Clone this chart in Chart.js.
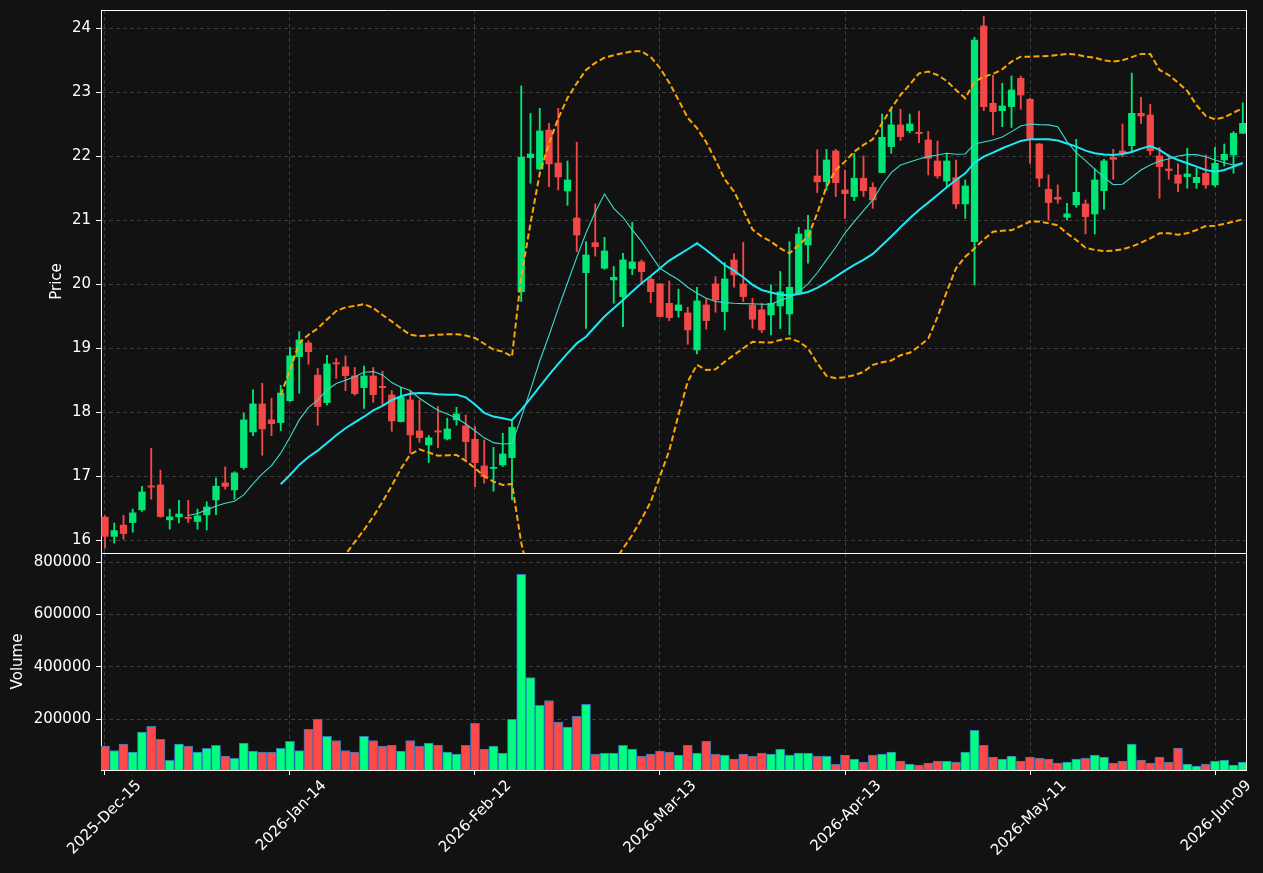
<!DOCTYPE html>
<html><head><meta charset="utf-8">
<script src="https://cdn.jsdelivr.net/npm/chart.js@4.4.1/dist/chart.umd.min.js"></script>
<style>
html,body{margin:0;padding:0;background:#121212;}
#wrap{position:relative;width:1263px;height:873px;background:#121212;overflow:hidden;}
#p1{position:absolute;left:0;top:0;width:1263px;height:554px;}
#p2{position:absolute;left:0;top:553px;width:1263px;height:320px;}
</style></head><body>
<div id="wrap"><div id="p1"><canvas id="c1"></canvas></div><div id="p2"><canvas id="c2"></canvas></div></div>
<script>
// ---- data ----
const tickIdx = [0, 20, 40, 60, 80, 100, 120];
const tickLabels = ['2025-Dec-15','2026-Jan-14','2026-Feb-12','2026-Mar-13','2026-Apr-13','2026-May-11','2026-Jun-09'];
const priceTicks = [16, 17, 18, 19, 20, 21, 22, 23, 24];
const volumeTicks = [200000, 400000, 600000, 800000];

const openP = [16.36,16.06,16.235,16.276,16.474,16.845,16.864,16.318,16.365,16.35,
16.292,16.396,16.63,16.896,16.786,17.135,17.692,18.13,17.88,17.838,
18.18,18.869,19.083,18.58,18.15,18.765,18.708,18.567,18.385,18.567,
18.392,18.27,17.853,18.192,17.708,17.489,17.7,17.583,17.88,17.786,
17.577,17.16,17.12,17.176,17.291,19.885,21.978,21.8,22.41,21.895,
21.458,21.036,20.182,20.65,20.25,20.068,19.807,20.245,20.349,20.078,
20.005,19.703,19.588,19.552,18.974,19.677,20.005,19.573,20.38,20.005,
19.677,19.6,19.52,19.661,19.536,19.859,20.614,21.692,21.604,22.083,
21.474,21.37,21.656,21.515,21.745,22.151,22.49,22.401,22.375,22.255,
21.927,21.614,21.666,21.255,20.666,24.036,22.828,22.713,22.776,23.218,
22.89,22.192,21.484,21.359,21.047,21.24,21.255,21.099,21.463,21.984,
22.083,22.166,22.671,22.645,22.005,21.802,21.708,21.682,21.588,21.734,
21.552,21.943,22.02,22.359];
const highP = [16.38,16.27,16.39,16.485,16.84,17.437,17.094,16.485,16.625,16.625,
16.485,16.6,16.97,17.146,17.07,17.984,18.349,18.453,18.218,18.42,
19.015,19.26,19.12,18.687,18.89,18.843,18.88,18.7,18.723,18.7,
18.64,18.338,18.39,18.338,18.192,17.635,18.088,17.906,18.077,17.958,
17.775,17.567,17.452,17.671,17.88,23.1,22.67,22.75,22.515,22.75,
21.926,22.218,20.666,21.255,20.734,20.276,20.484,20.969,20.38,20.12,
20.01,20.052,19.922,19.64,19.953,19.781,20.12,20.338,20.474,20.656,
19.78,19.703,19.99,20.2,20.666,20.89,21.078,22.1,22.109,22.109,
21.786,22.046,22.005,21.588,22.66,22.75,22.734,22.66,22.708,22.39,
22.24,22.047,21.942,21.63,23.86,24.19,23.27,23.14,23.255,23.255,
22.906,22.2,21.708,21.552,21.265,22.265,21.317,21.802,21.953,22.109,
22.505,23.3,22.92,22.812,22.14,22.02,21.88,22.125,21.812,22.02,
22.14,22.192,22.385,22.838];
const lowP = [15.875,15.955,16.016,16.125,16.45,16.64,16.36,16.172,16.27,16.276,
16.172,16.16,16.40,16.797,16.64,17.109,17.635,17.328,17.635,17.713,
18.17,18.296,18.749,17.796,18.114,18.53,18.338,18.265,18.06,18.155,
18.114,17.702,17.85,17.36,17.53,17.213,17.447,17.567,17.8,17.255,
16.838,16.89,16.765,17.15,16.63,19.73,21.578,21.79,21.525,21.473,
21.234,20.51,19.31,20.44,20.234,19.703,19.338,20.15,20.0,19.713,
19.49,19.432,19.484,19.062,18.911,19.297,19.562,19.286,19.953,19.729,
19.312,19.245,19.208,19.307,19.208,19.84,20.328,21.432,21.474,21.37,
21.03,21.307,21.37,21.187,21.74,22.047,22.245,22.37,22.213,21.708,
21.656,21.526,21.187,21.03,19.99,22.713,22.333,22.463,22.45,22.734,
21.89,21.526,21.005,21.265,21.005,21.203,20.786,20.786,21.172,21.64,
21.995,22.07,22.515,22.02,21.343,21.64,21.448,21.5,21.5,21.5,
21.526,21.849,21.734,22.359];
const closeP = [16.06,16.15,16.104,16.427,16.755,16.83,16.37,16.365,16.41,16.34,
16.38,16.52,16.844,16.84,17.052,17.88,18.13,17.74,17.822,18.30,
18.88,19.129,18.947,18.088,18.755,18.755,18.572,18.29,18.567,18.275,
18.385,17.864,18.234,17.645,17.604,17.6,17.69,17.739,17.973,17.541,
17.213,16.994,17.14,17.348,17.765,21.984,22.036,22.395,21.88,21.677,
21.63,20.77,20.458,20.588,20.52,20.109,20.38,20.349,20.198,19.885,
19.495,19.479,19.677,19.286,19.74,19.432,19.755,20.083,20.146,19.807,
19.453,19.286,19.703,19.88,19.953,20.786,20.849,21.6,21.942,21.588,
21.416,21.656,21.463,21.317,22.296,22.49,22.307,22.505,22.354,21.968,
21.692,21.927,21.255,21.536,23.817,22.776,22.698,22.786,23.036,22.958,
22.28,21.656,21.276,21.328,21.1,21.437,21.057,21.63,21.927,21.953,
22.047,22.671,22.63,22.088,21.838,21.776,21.578,21.724,21.672,21.552,
21.89,22.03,22.359,22.515];
const volume = [97500,81000,105000,75000,151000,173000,124000,43000,105000,97500,
75000,89000,101000,59500,51000,109000,78500,75000,75000,89000,
116000,81000,162000,200000,135000,119000,81000,75000,135000,119000,
97500,101000,78500,119000,97500,109000,101000,75000,67000,101000,
185000,86000,97500,71000,200000,754000,359000,253000,272000,189000,
170000,211000,257000,67000,71000,71000,101000,86000,59500,67000,
78500,75000,63000,101000,71000,116000,67000,63000,48000,67000,
59500,71000,67000,86000,63000,71000,71000,59500,59500,29000,
63000,48000,37000,63000,67000,75000,40500,29000,25000,33000,
40500,40500,37000,75000,158000,101000,56000,48000,59500,40500,
56000,52000,48000,33000,37000,48000,52000,63000,56000,33000,
40500,105000,44000,33000,56000,37000,90000,29000,21500,29000,
40500,44000,25000,37000];

const ma10Start = 9;
const ma10 = [16.385,16.416,16.474,16.536,16.578,16.609,16.708,16.88,17.036,17.166,
17.36,17.61,17.88,18.077,18.19,18.348,18.45,18.5,18.556,18.624,
18.635,18.583,18.463,18.39,18.338,18.218,18.12,18.03,17.973,17.91,
17.815,17.71,17.6,17.525,17.503,17.51,17.92,18.35,18.8,19.2,
19.62,20.02,20.42,20.8,21.13,21.41,21.187,21.047,20.85,20.67,
20.46,20.25,20.156,20.07,19.953,19.86,19.78,19.73,19.713,19.703,
19.698,19.695,19.687,19.687,19.745,19.797,19.885,20.005,20.18,20.38,
20.578,20.8,20.98,21.15,21.317,21.552,21.745,21.864,21.91,21.958,
21.994,22.02,22.047,22.031,22.036,22.192,22.224,22.255,22.3,22.385,
22.474,22.505,22.495,22.49,22.463,22.229,22.057,21.932,21.8,21.672,
21.557,21.562,21.672,21.786,21.864,21.927,21.958,22.005,22.026,22.026,
21.994,21.942,21.9,21.864,21.9];

const ma20Start = 19;
const ma20 = [16.874,17.02,17.177,17.3,17.4,17.52,17.64,17.75,17.84,17.93,
18.03,18.1,18.19,18.25,18.29,18.3,18.296,18.28,18.275,18.275,
18.233,18.12,17.99,17.932,17.906,17.875,18.036,18.218,18.4,18.583,
18.755,18.92,19.077,19.18,19.34,19.495,19.625,19.755,19.885,20.016,
20.13,20.25,20.37,20.458,20.547,20.64,20.536,20.42,20.3,20.213,
20.11,19.99,19.911,19.87,19.838,19.823,19.849,19.88,19.942,20.026,
20.12,20.213,20.302,20.38,20.474,20.609,20.745,20.89,21.03,21.161,
21.276,21.395,21.515,21.63,21.734,21.9,21.995,22.057,22.125,22.182,
22.24,22.265,22.265,22.265,22.245,22.2,22.15,22.088,22.047,22.026,
22.02,22.036,22.067,22.12,22.161,22.1,22.005,21.942,21.89,21.838,
21.786,21.76,21.786,21.838,21.89];

const bbStart = 19;
const bbUpper = [18.27,18.66,19.08,19.21,19.31,19.45,19.58,19.64,19.66,19.69,
19.63,19.52,19.42,19.31,19.21,19.19,19.2,19.21,19.22,19.22,
19.2,19.16,19.07,18.98,18.95,18.87,20.12,20.95,21.73,22.2,
22.59,22.91,23.14,23.35,23.46,23.54,23.58,23.61,23.64,23.64,
23.55,23.38,23.15,22.88,22.6,22.44,22.22,21.94,21.64,21.45,
21.16,20.855,20.745,20.666,20.562,20.484,20.614,20.745,21.109,21.526,
21.786,21.916,22.072,22.177,22.265,22.515,22.75,22.958,23.12,23.296,
23.323,23.27,23.177,23.036,22.906,23.166,23.244,23.286,23.359,23.479,
23.557,23.557,23.562,23.567,23.583,23.6,23.588,23.56,23.54,23.5,
23.48,23.5,23.55,23.6,23.6,23.35,23.27,23.15,23.02,22.8,
22.63,22.578,22.609,22.682,22.75];
const bbLower = [15.45,15.35,15.3,15.4,15.45,15.5,15.6,15.78,15.97,16.16,
16.37,16.6,16.85,17.12,17.34,17.42,17.37,17.32,17.327,17.333,
17.24,17.124,17.0,16.916,16.864,16.88,15.96,15.35,15.07,14.96,
14.92,14.93,15.02,15.01,15.22,15.45,15.65,15.87,16.08,16.33,
16.6,17.0,17.4,17.96,18.48,18.74,18.66,18.67,18.79,18.895,
19.0,19.1,19.093,19.088,19.13,19.156,19.104,19.0,18.765,18.567,
18.531,18.547,18.578,18.63,18.74,18.78,18.807,18.89,18.93,19.03,
19.15,19.49,19.885,20.25,20.43,20.56,20.7,20.82,20.838,20.845,
20.91,20.98,20.98,20.952,20.92,20.796,20.692,20.572,20.536,20.52,
20.525,20.546,20.588,20.65,20.718,20.796,20.796,20.775,20.796,20.848,
20.91,20.916,20.942,20.978,21.015];

// ---- styling ----
const GRID = '#3d3d3d';
const UP = '#00e676', DOWN = '#f44848';
const VUP = '#00ff80', VDOWN = '#ff4848';
const X_MIN = -0.43, X_MAX = 123.35;
const FS = 15;
Chart.defaults.font.family = "'DejaVu Sans', sans-serif";
Chart.defaults.font.size = FS;
Chart.defaults.color = '#ffffff';

const idx = openP.map((_, i) => i);
const isUp = idx.map(i => closeP[i] >= openP[i]);
const wickData = idx.map(i => ({x: i, y: [lowP[i], highP[i]]}));
const bodyData = idx.map(i => ({x: i, y: [Math.min(openP[i], closeP[i]), Math.max(openP[i], closeP[i])]}));
const volData = idx.map(i => ({x: i, y: volume[i]}));
const series = (arr, start) => arr.map((v, k) => ({x: k + start, y: v}));

const noPad = s => { s.paddingTop = 0; s.paddingBottom = 0; s.paddingLeft = 0; s.paddingRight = 0; };

const frameScales = () => ({
  xT: {type: 'linear', position: 'top', display: true, min: 0, max: 1,
       ticks: {display: false}, grid: {display: false, drawTicks: false},
       border: {display: true, color: '#ffffff', width: 1},
       afterFit: s => { s.height = 0; noPad(s); }},
  yR: {type: 'linear', position: 'right', display: true, min: 0, max: 1,
       ticks: {display: false}, grid: {display: false, drawTicks: false},
       border: {display: true, color: '#ffffff', width: 1},
       afterFit: s => { s.width = 0; noPad(s); }}
});

new Chart(document.getElementById('c1'), {
  type: 'bar',
  data: {
    datasets: [
      {type: 'line', label: 'BB upper', data: series(bbUpper, bbStart), borderColor: '#ffa500', borderWidth: 2, borderDash: [6, 3], pointRadius: 0, xAxisID: 'x', yAxisID: 'y', order: 0},
      {type: 'line', label: 'BB lower', data: series(bbLower, bbStart), borderColor: '#ffa500', borderWidth: 2, borderDash: [6, 3], pointRadius: 0, xAxisID: 'x', yAxisID: 'y', order: 0},
      {type: 'line', label: 'MA20', data: series(ma20, ma20Start), borderColor: '#1de9f6', borderWidth: 2, pointRadius: 0, xAxisID: 'x', yAxisID: 'y', order: 0},
      {type: 'line', label: 'MA10', data: series(ma10, ma10Start), borderColor: '#40d8cc', borderWidth: 1.1, pointRadius: 0, xAxisID: 'x', yAxisID: 'y', order: 0},
      {type: 'bar', label: 'wick', data: wickData, backgroundColor: idx.map(i => isUp[i] ? UP : DOWN), barThickness: 1.2, grouped: false, xAxisID: 'x', yAxisID: 'y', order: 2},
      {type: 'bar', label: 'body', data: bodyData, backgroundColor: idx.map(i => isUp[i] ? UP : DOWN), barThickness: 6.6, minBarLength: 1.2, grouped: false, xAxisID: 'x', yAxisID: 'y', order: 1}
    ]
  },
  options: {
    animation: false, responsive: true, maintainAspectRatio: false, devicePixelRatio: 1,
    layout: {padding: {top: 10, right: 17, bottom: 1, left: 0}},
    plugins: {legend: {display: false}, tooltip: {enabled: false}},
    scales: {
      x: {type: 'linear', min: X_MIN, max: X_MAX, offset: false,
          afterBuildTicks: s => { s.ticks = tickIdx.map(v => ({value: v})); },
          ticks: {display: false},
          grid: {color: GRID, lineWidth: 1, drawTicks: false, offset: false},
          border: {display: true, color: '#ffffff', width: 1, dash: [4, 3]},
          afterFit: s => { s.height = 0; noPad(s); }},
      y: {type: 'linear', position: 'left', min: 15.80, max: 24.286,
          afterBuildTicks: s => { s.ticks = priceTicks.map(v => ({value: v})); },
          ticks: {color: '#ffffff', padding: 5, font: {size: FS}, callback: v => String(v)},
          grid: {color: GRID, lineWidth: 1, tickColor: '#ffffff', tickLength: 5, tickWidth: 1},
          border: {display: true, color: '#ffffff', width: 1, dash: [4, 3]},
          title: {display: true, text: 'Price', color: '#ffffff', font: {size: FS}, padding: {top: 48, bottom: 0}},
          afterFit: s => { s.width = 101; noPad(s); }},
      ...frameScales()
    }
  }
});

new Chart(document.getElementById('c2'), {
  type: 'bar',
  data: {
    datasets: [
      {label: 'Volume', data: volData, backgroundColor: idx.map(i => isUp[i] ? VUP : VDOWN), borderColor: '#2b7bb9', borderWidth: 1, borderSkipped: false, barThickness: 9.1, grouped: false, xAxisID: 'x', yAxisID: 'y'}
    ]
  },
  options: {
    animation: false, responsive: true, maintainAspectRatio: false, devicePixelRatio: 1,
    layout: {padding: {top: 0, right: 17, bottom: 0, left: 0}},
    plugins: {legend: {display: false}, tooltip: {enabled: false}},
    scales: {
      x: {type: 'linear', position: 'bottom', min: X_MIN, max: X_MAX, offset: false,
          afterBuildTicks: s => { s.ticks = tickIdx.map(v => ({value: v})); },
          ticks: {color: '#ffffff', autoSkip: false, minRotation: 45, maxRotation: 45, padding: 2, labelOffset: 34, font: {size: FS},
                  callback: (v, i) => tickLabels[i]},
          grid: {color: GRID, lineWidth: 1, tickColor: '#ffffff', tickLength: 5, tickWidth: 1, offset: false},
          border: {display: true, color: '#ffffff', width: 1, dash: [4, 3]},
          afterFit: s => { s.height = 103; noPad(s); }},
      y: {type: 'linear', position: 'left', min: 6400, max: 835300,
          afterBuildTicks: s => { s.ticks = volumeTicks.map(v => ({value: v})); },
          ticks: {color: '#ffffff', padding: 5, font: {size: FS}, callback: v => String(v)},
          grid: {color: GRID, lineWidth: 1, tickColor: '#ffffff', tickLength: 5, tickWidth: 1},
          border: {display: true, color: '#ffffff', width: 1, dash: [4, 3]},
          title: {display: true, text: 'Volume', color: '#ffffff', font: {size: FS}, padding: {top: 9, bottom: 0}},
          afterFit: s => { s.width = 101; noPad(s); }},
      ...frameScales()
    }
  }
});
</script>
</body></html>
